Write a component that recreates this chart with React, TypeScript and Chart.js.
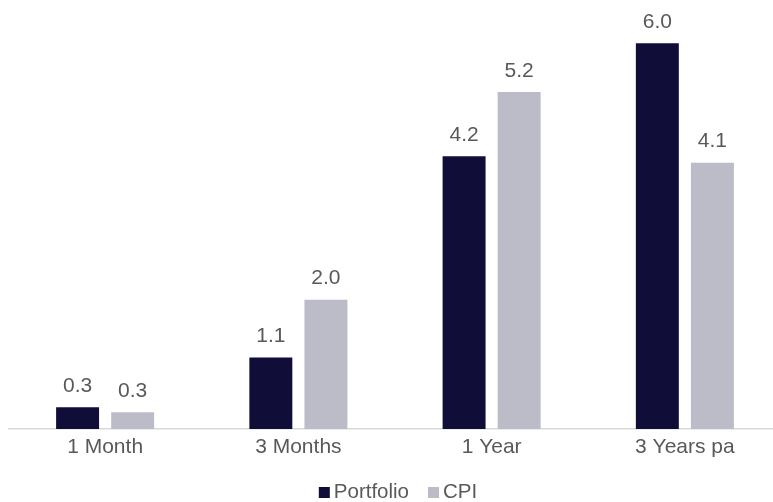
import React, { useEffect, useRef } from "react";
import { Chart, registerables } from "chart.js";

Chart.register(...registerables);

const categories = ["1 Month", "3 Months", "1 Year", "3 Years pa"];
const portfolioValues = [0.34, 1.11, 4.24, 6.0];
const cpiValues = [0.26, 2.01, 5.24, 4.14];
const seriesNames = ["Portfolio", "CPI"];
const seriesColors = ["#100d38", "#bcbcc8"];

const FONT = '"Liberation Sans", Arial, sans-serif';
const TEXT_COLOR = "#595959";

const dataLabelPlugin = {
  id: "dataLabels",
  afterDatasetsDraw(chart: any) {
    const ctx = chart.ctx;
    ctx.save();
    ctx.font = `21px ${FONT}`;
    ctx.fillStyle = TEXT_COLOR;
    ctx.textAlign = "center";
    ctx.textBaseline = "alphabetic";
    chart.data.datasets.forEach((ds: any, i: number) => {
      const meta = chart.getDatasetMeta(i);
      meta.data.forEach((bar: any, j: number) => {
        const v = ds.data[j] as number;
        ctx.fillText(v.toFixed(1), bar.x, bar.y - 15.5);
      });
    });
    ctx.restore();
  },
};

const legendPlugin = {
  id: "customLegend",
  afterDraw(chart: any) {
    const ctx = chart.ctx;
    ctx.save();
    ctx.font = `20.5px ${FONT}`;
    const box = 11;
    const gapText = 4;
    const gapItem = 19;
    const items = chart.data.datasets.map((ds: any) => ({
      label: ds.label,
      color: ds.backgroundColor,
      w: ctx.measureText(ds.label).width,
    }));
    let total = 0;
    items.forEach((it: any, i: number) => {
      total += box + gapText + it.w + (i < items.length - 1 ? gapItem : 0);
    });
    let x = chart.width / 2 + 3 - total / 2;
    const baseline = chart.height - 4;
    ctx.textBaseline = "alphabetic";
    ctx.textAlign = "left";
    items.forEach((it: any) => {
      ctx.fillStyle = it.color;
      ctx.fillRect(x, baseline - box, box, box);
      x += box + gapText;
      ctx.fillStyle = TEXT_COLOR;
      ctx.fillText(it.label, x, baseline);
      x += it.w + gapItem;
    });
    ctx.restore();
  },
};

export default function App() {
  const ref = useRef<HTMLCanvasElement | null>(null);
  useEffect(() => {
    if (!ref.current) return;
    const chart = new Chart(ref.current, {
      type: "bar",
      data: {
        labels: categories,
        datasets: [
          {
            label: seriesNames[0],
            data: portfolioValues,
            backgroundColor: seriesColors[0],
            categoryPercentage: 0.57,
            barPercentage: 0.78,
          },
          {
            label: seriesNames[1],
            data: cpiValues,
            backgroundColor: seriesColors[1],
            categoryPercentage: 0.57,
            barPercentage: 0.78,
          },
        ],
      },
      options: {
        animation: false,
        responsive: false,
        maintainAspectRatio: false,
        layout: { padding: { left: 8.5, right: 8.5, top: 11, bottom: 35.8 } },
        plugins: {
          legend: { display: false },
          tooltip: { enabled: false },
        },
        scales: {
          x: {
            grid: { display: false, drawTicks: false },
            border: { display: true, color: "#d9d9d9", width: 1.5 },
            ticks: {
              color: TEXT_COLOR,
              font: { family: FONT, size: 21 },
              padding: 6,
              maxRotation: 0,
            },
          },
          y: {
            display: false,
            min: 0,
            max: 6.5,
          },
        },
      },
      plugins: [dataLabelPlugin, legendPlugin],
    });
    return () => chart.destroy();
  }, []);
  return (
    <div
      style={{
        position: "absolute",
        left: 0,
        top: 0,
        width: 773,
        height: 502,
        overflow: "hidden",
        background: "#fff",
      }}
    >
      <canvas ref={ref} width={790} height={502} style={{ display: "block" }} />
    </div>
  );
}
